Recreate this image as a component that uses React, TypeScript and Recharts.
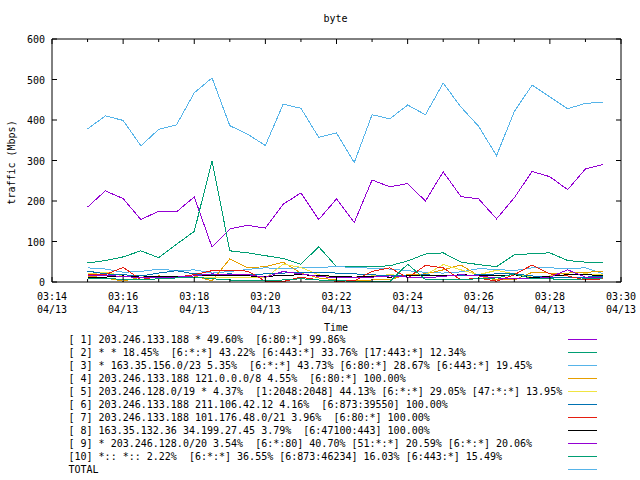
import React from 'react';
import { LineChart, Line, XAxis, YAxis, Legend, ReferenceLine } from 'recharts';

// sample times (every 30 s)
const TIMES = [
  '03:15:00', '03:15:30', '03:16:00', '03:16:30', '03:17:00', '03:17:30', '03:18:00', '03:18:30',
  '03:19:00', '03:19:30', '03:20:00', '03:20:30', '03:21:00', '03:21:30', '03:22:00', '03:22:30',
  '03:23:00', '03:23:30', '03:24:00', '03:24:30', '03:25:00', '03:25:30', '03:26:00', '03:26:30',
  '03:27:00', '03:27:30', '03:28:00', '03:28:30', '03:29:00', '03:29:30',
];

const S1 = [185, 225, 206, 154, 175, 173, 210, 86, 131, 140, 133, 192, 220, 154, 205, 147, 252, 235, 243, 200, 272, 211, 205, 156, 208, 273, 260, 228, 279, 290];
const S2 = [47, 53, 62, 77, 60, 93, 125, 299, 77, 72, 65, 58, 44, 87, 38, 38, 38, 40, 52, 69, 72, 49, 43, 38, 67, 70, 72, 53, 49, 49];
const S3 = [35, 32, 24, 26, 32, 28, 30, 22, 26, 31, 35, 33, 35, 36, 38, 36, 34, 32, 28, 24, 22, 25, 33, 31, 28, 35, 35, 33, 35, 20];
const S4 = [15, 10, 2, 12, 15, 12, 15, 3, 57, 35, 38, 49, 22, 10, 5, 3, 5, 6, 18, 20, 30, 42, 15, 5, 5, 24, 22, 22, 24, 26];
const S5 = [20, 24, 15, 12, 13, 14, 12, 10, 12, 12, 10, 44, 36, 18, 10, 12, 15, 18, 15, 18, 43, 30, 18, 29, 20, 12, 15, 18, 20, 18];
const S6 = [27, 20, 18, 15, 22, 28, 20, 18, 20, 18, 20, 22, 24, 24, 22, 20, 18, 15, 15, 18, 15, 15, 18, 20, 20, 15, 12, 10, 12, 14];
const S7 = [18, 18, 36, 6, 14, 12, 18, 28, 28, 27, 2, 1, 12, 5, 2, 3, 26, 35, 10, 41, 35, 5, 10, 2, 18, 42, 20, 15, 5, 8];
const S8 = [12, 12, 15, 12, 14, 13, 15, 16, 16, 15, 14, 16, 18, 16, 14, 12, 14, 12, 15, 16, 15, 18, 16, 15, 18, 10, 14, 18, 18, 16];
const S9 = [15, 16, 14, 10, 12, 12, 15, 20, 18, 18, 12, 26, 20, 14, 10, 10, 12, 15, 12, 10, 14, 18, 15, 10, 8, 8, 12, 30, 12, 10];
const S10 = [8, 8, 7, 5, 8, 10, 12, 8, 5, 3, 3, 5, 8, 5, 3, 2, 2, 1, 44, 6, 5, 6, 8, 10, 20, 8, 8, 5, 8, 10];
const TOTAL = [378, 410, 399, 336, 377, 388, 467, 504, 386, 365, 337, 439, 429, 357, 368, 295, 413, 403, 437, 413, 491, 432, 384, 312, 421, 486, 457, 428, 441, 444];

const NAMES = [
  '[ 1] 203.246.133.188 * 49.60%  [6:80:*] 99.86%',
  '[ 2] * * 18.45%  [6:*:*] 43.22% [6:443:*] 33.76% [17:443:*] 12.34%',
  '[ 3] * 163.35.156.0/23 5.35%  [6:*:*] 43.73% [6:80:*] 28.67% [6:443:*] 19.45%',
  '[ 4] 203.246.133.188 121.0.0.0/8 4.55%  [6:80:*] 100.00%',
  '[ 5] 203.246.128.0/19 * 4.37%  [1:2048:2048] 44.13% [6:*:*] 29.05% [47:*:*] 13.95%',
  '[ 6] 203.246.133.188 211.106.42.12 4.16%  [6:873:39550] 100.00%',
  '[ 7] 203.246.133.188 101.176.48.0/21 3.96%  [6:80:*] 100.00%',
  '[ 8] 163.35.132.36 34.199.27.45 3.79%  [6:47100:443] 100.00%',
  '[ 9] * 203.246.128.0/20 3.54%  [6:*:80] 40.70% [51:*:*] 20.59% [6:*:*] 20.06%',
  '[10] *:: *:: 2.22%  [6:*:*] 36.55% [6:873:46234] 16.03% [6:443:*] 15.49%',
  'TOTAL',
];
const COLORS = ['#9400d3', '#009e73', '#56b4e9', '#e69f00', '#f0e442', '#0072b2', '#e51e10', '#000000', '#9400d3', '#009e73', '#56b4e9'];
const VALUES = [S1, S2, S3, S4, S5, S6, S7, S8, S9, S10, TOTAL];

const X_LABELS = ['03:14', '03:16', '03:18', '03:20', '03:22', '03:24', '03:26', '03:28', '03:30'];
const DATE_LABEL = '04/13';
const Y_TICKS = [0, 100, 200, 300, 400, 500, 600];

const FONT = '"DejaVu Sans Mono", monospace';
const PLOT_W = 569;
const PLOT_H = 243;

const toMin = (s: string) => {
  const [h, m, sec = '0'] = s.split(':');
  return +h * 60 + +m + +sec / 60;
};
const ORIGIN = toMin(X_LABELS[0]);

const data = TIMES.map((t, i) => {
  const row: Record<string, number> = { t: toMin(t) - ORIGIN };
  VALUES.forEach((v, k) => (row['s' + k] = v[i]));
  return row;
});

const labelTicks = X_LABELS.map((l) => toMin(l) - ORIGIN);
const xTicks: number[] = [];
labelTicks.forEach((v, i) => {
  xTicks.push(v);
  if (i < labelTicks.length - 1) xTicks.push((v + labelTicks[i + 1]) / 2);
});

function TimeTick(props: any) {
  const { x, y, payload } = props;
  const idx = labelTicks.indexOf(payload.value);
  const len = idx >= 0 ? 5 : 3;
  return (
    <g>
      <line x1={x} y1={y} x2={x} y2={y - len} stroke="#000" />
      <line x1={x} y1={y - PLOT_H} x2={x} y2={y - PLOT_H + len} stroke="#000" />
      {idx >= 0 && (
        <text x={x} y={y + 17.5} textAnchor="middle" fontFamily={FONT} fontSize={10} fill="#000">
          {X_LABELS[idx]}
        </text>
      )}
      {idx >= 0 && (
        <text x={x} y={y + 30.5} textAnchor="middle" fontFamily={FONT} fontSize={10} fill="#000">
          {DATE_LABEL}
        </text>
      )}
    </g>
  );
}

function ValueTick(props: any) {
  const { x, y, payload } = props;
  return (
    <g>
      <line x1={x} y1={y} x2={x + 5} y2={y} stroke="#000" />
      <line x1={x + PLOT_W} y1={y} x2={x + PLOT_W - 5} y2={y} stroke="#000" />
      <text x={x - 7} y={y + 4} textAnchor="end" fontFamily={FONT} fontSize={10} fill="#000">
        {payload.value}
      </text>
    </g>
  );
}

function KeyBox(props: any) {
  const items = [...(props.payload || [])].sort(
    (a: any, b: any) => NAMES.indexOf(a.value) - NAMES.indexOf(b.value)
  );
  const txt = { fontFamily: FONT, fontSize: 10, fill: '#000' };
  return (
    <svg width={640} height={480} style={{ position: 'absolute', left: 0, top: 0, pointerEvents: 'none' }}>
      <text x={335.5} y={22} textAnchor="middle" {...txt}>byte</text>
      <text transform="translate(15,162.5) rotate(-90)" textAnchor="middle" {...txt}>traffic (Mbps)</text>
      <text x={336} y={331} textAnchor="middle" {...txt}>Time</text>
      {items.map((it: any, i: number) => (
        <g key={it.value}>
          <text x={68.5} y={343 + i * 13} style={{ whiteSpace: 'pre' }} {...txt}>{it.value}</text>
          <line x1={568} x2={597} y1={339.5 + i * 13} y2={339.5 + i * 13} stroke={it.color} />
        </g>
      ))}
    </svg>
  );
}

export default function App() {
  return (
    <div style={{ position: 'absolute', left: 0, top: 0, background: '#fff' }}>
      <LineChart width={640} height={480} data={data} margin={{ top: 39, right: 19, bottom: 158, left: 0 }}>
        <XAxis
          type="number"
          dataKey="t"
          domain={[0, 16]}
          ticks={xTicks}
          interval={0}
          height={40}
          tickSize={0}
          tickMargin={0}
          tickLine={false}
          tick={<TimeTick />}
          axisLine={{ stroke: '#000' }}
        />
        <YAxis
          type="number"
          domain={[0, 600]}
          ticks={Y_TICKS}
          interval={0}
          width={52}
          tickSize={0}
          tickMargin={0}
          tickLine={false}
          tick={<ValueTick />}
          axisLine={{ stroke: '#000' }}
        />
        <ReferenceLine y={600} stroke="#000" />
        <ReferenceLine x={16} stroke="#000" />
        {NAMES.map((n, k) => (
          <Line
            key={n}
            type="linear"
            dataKey={'s' + k}
            name={n}
            stroke={COLORS[k]}
            strokeWidth={1}
            dot={false}
            shapeRendering="crispEdges"
            isAnimationActive={false}
          />
        ))}
        <Legend
          layout="horizontal"
          verticalAlign="middle"
          align="center"
          wrapperStyle={{ left: 0, top: 0, width: 640, height: 480 }}
          content={<KeyBox />}
        />
      </LineChart>
    </div>
  );
}
